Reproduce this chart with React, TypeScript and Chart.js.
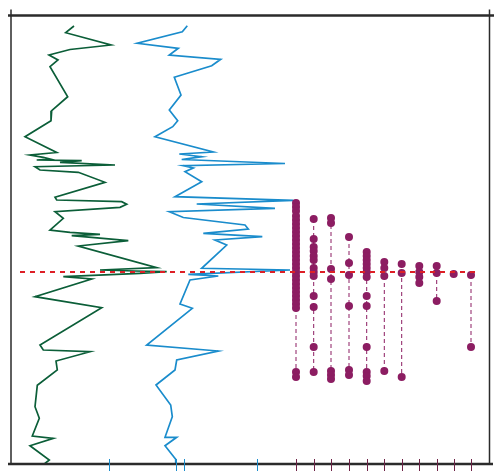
import React, { useEffect, useRef } from "react";
import { Chart, registerables } from "chart.js";

Chart.register(...registerables);

// Log curves: [value, depth]
const greenLog: [number, number][] = [
  [74, 26], [65.7, 32.7], [111, 45], [70, 49.5], [49, 55], [58, 60], [50, 66.7], [67.7, 96.7],
  [51.7, 110.7], [51, 120.7], [25, 136.7], [56.7, 152.5], [30, 155], [43.3, 157.3], [50, 159],
  [36.7, 160], [81.7, 160.7], [60, 162.3], [115, 165], [35, 166.7], [40, 170], [78.3, 172.3],
  [105, 182.3], [55, 197.3], [56.7, 200], [121.7, 201.7], [126.7, 204.3], [120, 207.3], [55, 211.7],
  [63.3, 218.3], [50, 230], [70, 232.3], [100, 234.3], [71.7, 235.7], [128.3, 240.7], [78.3, 246],
  [156.7, 267.7], [100, 270], [135, 271], [166.7, 271.7], [140, 273.3], [63.3, 276.7], [91.7, 279],
  [35, 296.7], [101.7, 307.7], [40, 345], [43.3, 350], [90, 351.7], [56, 361], [57.3, 370],
  [37.3, 385.3], [35, 406.7], [39.3, 418.3], [32.3, 436], [53.3, 438.3], [30, 445.7], [49.3, 460],
  [44.3, 464],
];

const blueLog: [number, number][] = [
  [187.3, 25.7], [182.3, 31.7], [137.3, 43.3], [178.3, 48.3], [169.3, 55], [220.7, 59.3],
  [211.7, 65.7], [174.3, 77.3], [181, 95], [169.3, 110], [177.7, 120.7], [172.7, 126.7],
  [155, 136.7], [213.3, 152], [179.3, 154], [201.7, 156.7], [181.7, 159.5], [285, 163.5],
  [183.3, 165.7], [193.3, 168], [185, 171.7], [201.7, 181.7], [175, 196.7], [293.3, 200.3],
  [196.7, 204], [275, 208.3], [169.3, 211.7], [183.3, 217.5], [245, 225], [248.3, 229],
  [203.3, 233.3], [262.3, 236.7], [215, 240], [226.7, 245], [201.7, 268.3], [290, 270],
  [188.3, 274.3], [218.3, 276], [190, 280], [180, 304], [192.3, 308.3], [146.7, 345],
  [218.3, 351], [176.7, 360], [175, 370], [156, 385], [170.7, 405], [172.3, 416.7],
  [165, 437.3], [176.7, 437.3], [165, 445.7], [175.7, 459.3], [175.7, 465],
];

// Sample columns
const sampleX = [296, 313.7, 331, 349, 366.7, 384.3, 401.7, 419.3, 436.7, 453.7, 471];
const sampleDepths: number[][] = [
  [203, 207, 211, 216, 220, 224, 228, 232, 236, 240, 244, 248, 252, 256, 260, 264, 268, 272, 276,
    280, 284, 288, 292, 296, 300, 304, 308, 372, 377],
  [219, 239, 247, 251, 256, 260, 268, 272, 276, 296, 307, 347, 372],
  [218, 223, 269, 279, 371, 375, 379],
  [237, 263, 275, 306, 370, 375],
  [252, 256, 260, 264, 268, 272, 277, 296, 306, 347, 372, 376, 381],
  [262, 268, 276, 371],
  [264, 273, 377],
  [266, 272, 277, 283],
  [266, 273, 301],
  [274],
  [275, 347],
];

const referenceDepth = 272;
const referenceRange = [20, 478];
const blueTicks = [109, 176, 184, 257];

const GREEN = "#0b5e38";
const BLUE = "#1a8ccc";
const PURPLE = "#8c1d62";
const RED = "#dd1f26";

const framePlugin = {
  id: "frame",
  afterDraw(chart: any) {
    const { ctx, chartArea: a, scales } = chart;
    const xs = scales.x;
    ctx.save();
    ctx.strokeStyle = "#2b2b2b";
    ctx.lineWidth = 2.5;
    ctx.beginPath();
    ctx.moveTo(8, a.top);
    ctx.lineTo(494, a.top);
    ctx.moveTo(8, a.bottom);
    ctx.lineTo(493, a.bottom);
    ctx.stroke();
    ctx.lineWidth = 1.5;
    ctx.beginPath();
    ctx.moveTo(a.left, a.top - 6);
    ctx.lineTo(a.left, a.bottom);
    ctx.moveTo(a.right, a.top - 6);
    ctx.lineTo(a.right, a.bottom);
    ctx.stroke();
    ctx.lineWidth = 1;
    const drawTick = (v: number, c: string) => {
      const px = Math.round(xs.getPixelForValue(v)) + 0.5;
      ctx.strokeStyle = c;
      ctx.beginPath();
      ctx.moveTo(px, a.bottom - 5);
      ctx.lineTo(px, a.bottom + 7);
      ctx.stroke();
    };
    blueTicks.forEach((v) => drawTick(v, BLUE));
    sampleX.forEach((v) => drawTick(v, "#6e2346"));
    ctx.restore();
  },
};

export default function App() {
  const ref = useRef<HTMLCanvasElement>(null);
  useEffect(() => {
    if (!ref.current) return;
    const datasets: any[] = [];
    datasets.push({
      data: greenLog.map(([x, y]) => ({ x, y })),
      showLine: true,
      borderColor: GREEN,
      borderWidth: 1.7,
      pointRadius: 0,
      tension: 0,
      order: 3,
    });
    datasets.push({
      data: blueLog.map(([x, y]) => ({ x, y })),
      showLine: true,
      borderColor: BLUE,
      borderWidth: 1.7,
      pointRadius: 0,
      tension: 0,
      order: 3,
    });
    sampleX.forEach((sx, i) => {
      datasets.push({
        data: sampleDepths[i].map((d) => ({ x: sx, y: d })),
        showLine: true,
        borderColor: PURPLE,
        borderWidth: 1,
        borderDash: [4, 3],
        pointRadius: 4,
        pointBackgroundColor: PURPLE,
        pointBorderWidth: 0,
        order: 2,
      });
    });
    datasets.push({
      data: referenceRange.map((x) => ({ x, y: referenceDepth })),
      showLine: true,
      borderColor: RED,
      borderWidth: 2,
      borderDash: [5, 5],
      pointRadius: 0,
      order: 1,
    });
    const chart = new Chart(ref.current, {
      type: "scatter",
      data: { datasets },
      options: {
        animation: false,
        responsive: false,
        layout: { padding: { left: 11, top: 15.5, right: 8.5, bottom: 9 } },
        plugins: { legend: { display: false }, tooltip: { enabled: false } },
        scales: {
          x: { type: "linear", min: 11, max: 489.5, display: false },
          y: { type: "linear", min: 15.5, max: 464, reverse: true, display: false },
        },
      },
      plugins: [framePlugin],
    });
    return () => chart.destroy();
  }, []);
  return (
    <div style={{ position: "absolute", left: 0, top: 0, width: 498, height: 473, background: "#fff" }}>
      <canvas ref={ref} width={498} height={473} style={{ width: 498, height: 473 }} />
    </div>
  );
}
